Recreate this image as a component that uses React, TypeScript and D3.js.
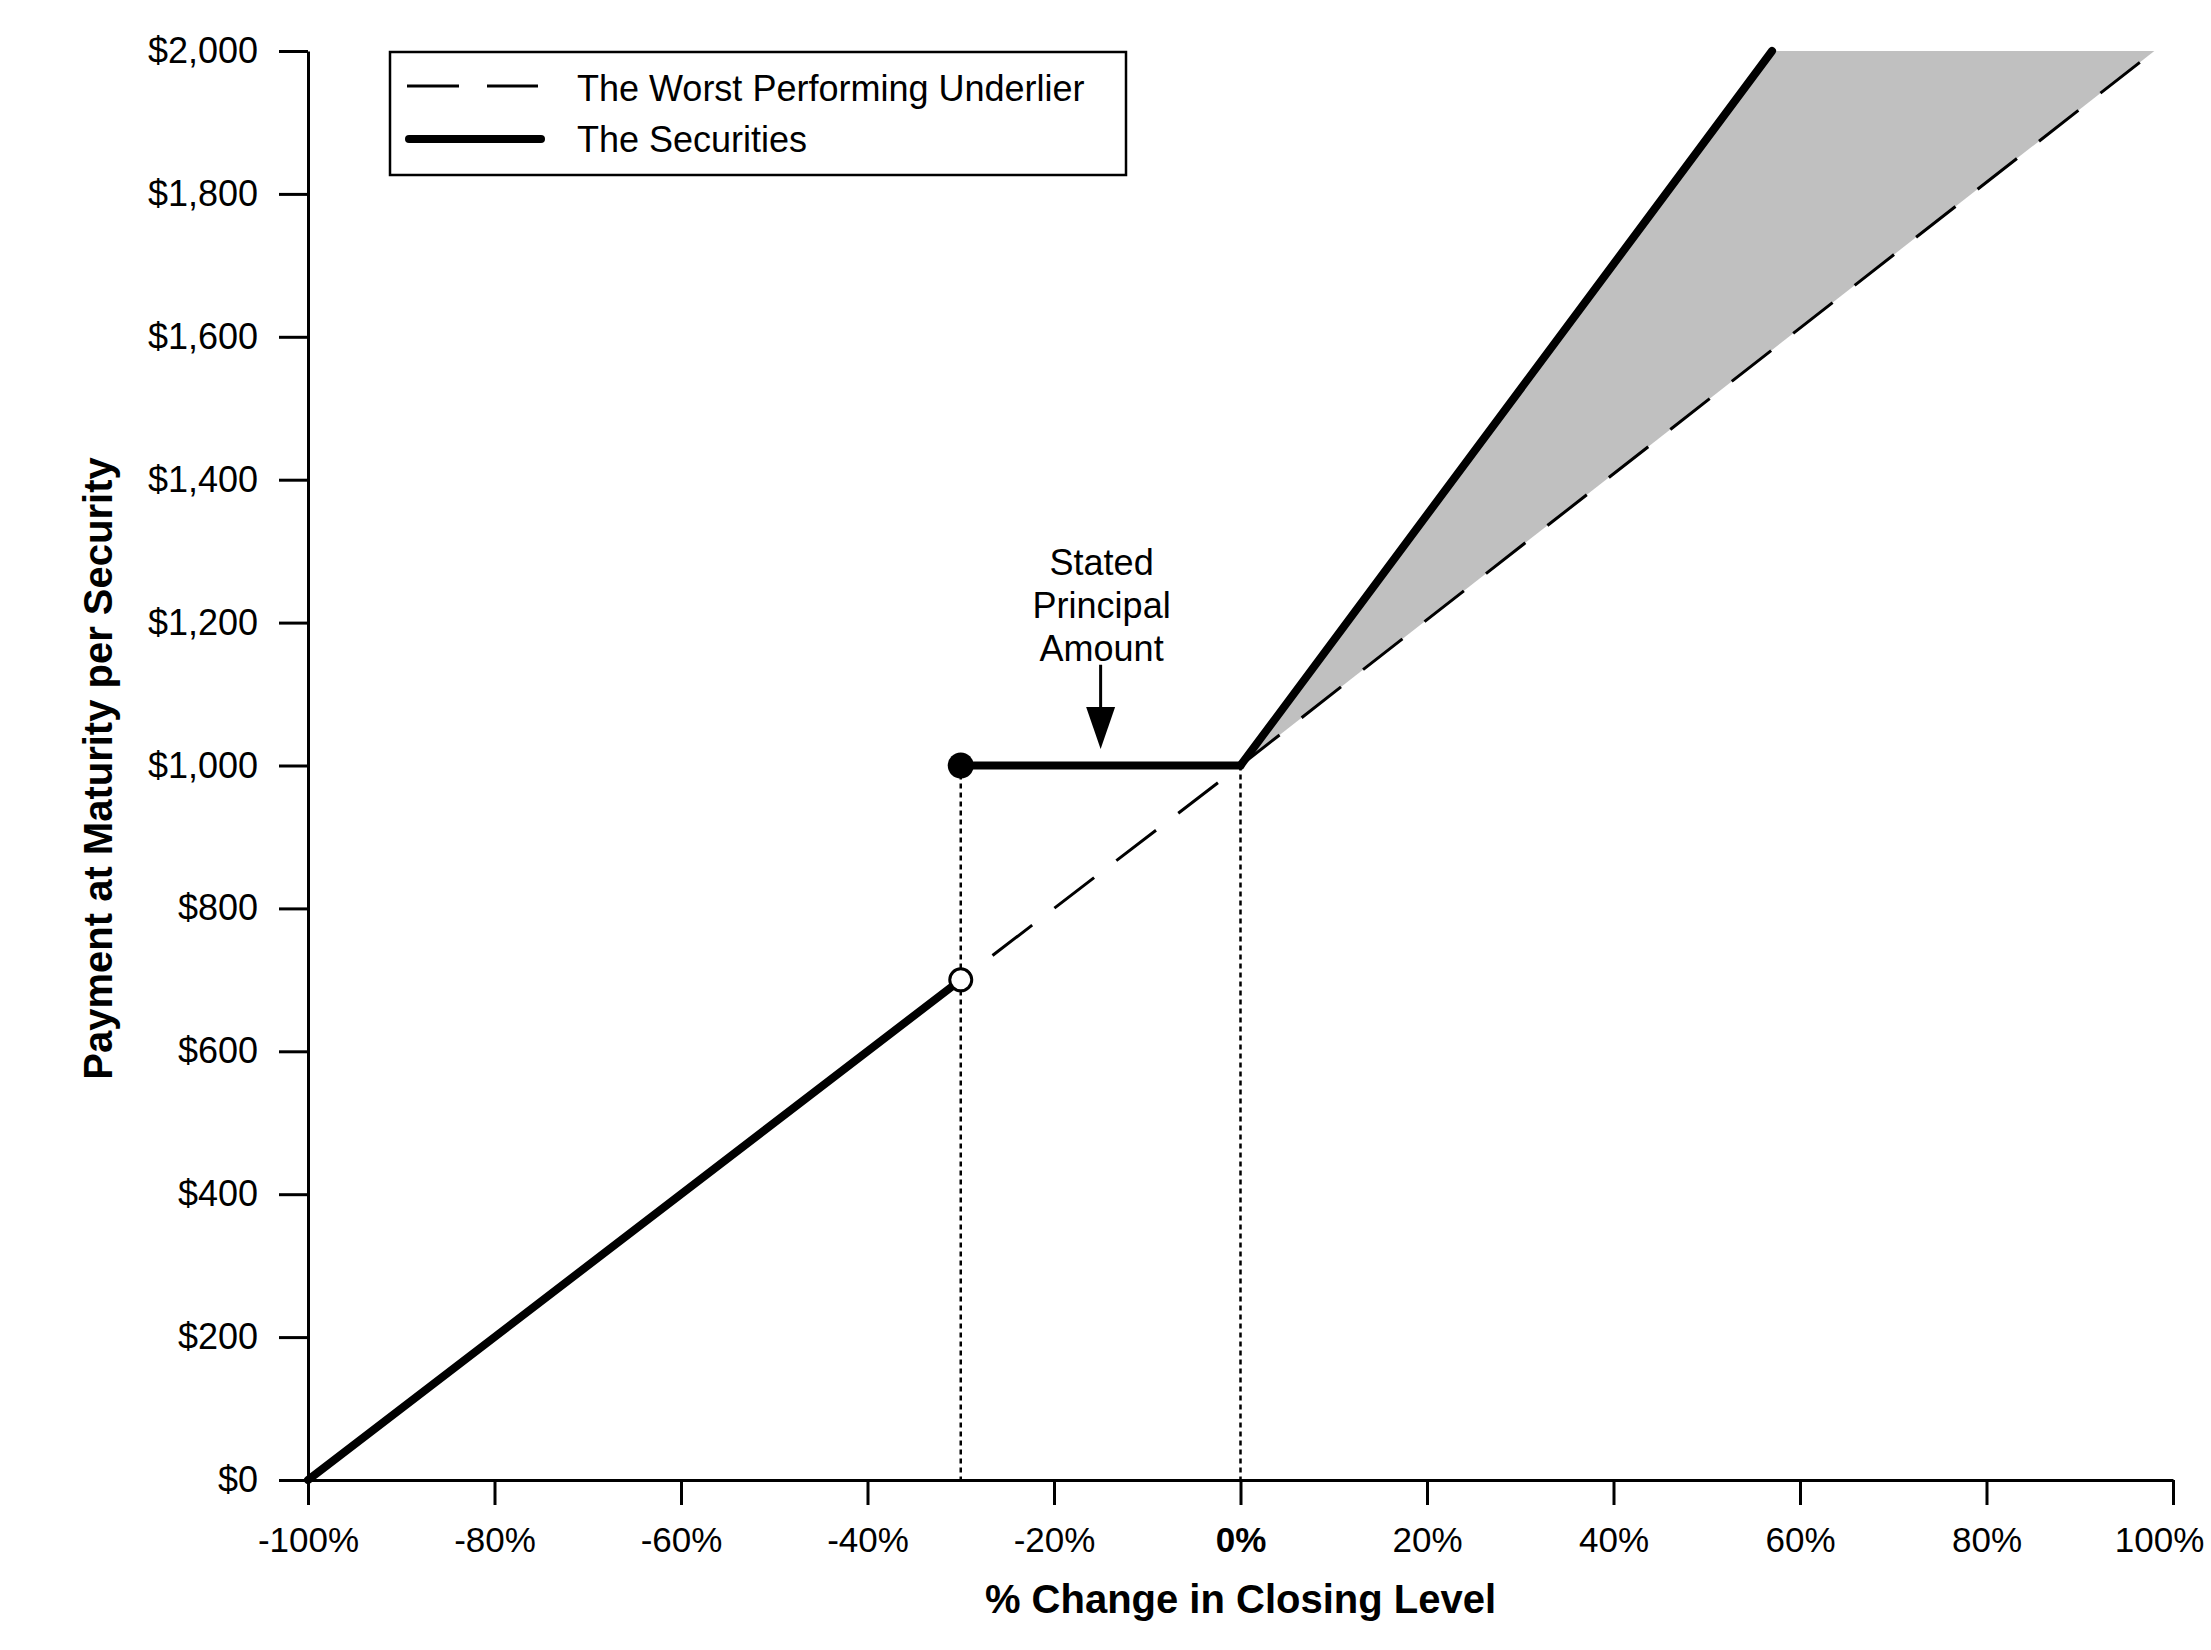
import { useEffect, useRef } from 'react';
import * as d3 from 'd3';

type Pt = [number, number];

// values
const xTicks = [-100, -80, -60, -40, -20, 0, 20, 40, 60, 80, 100];
const yTicks = [0, 200, 400, 600, 800, 1000, 1200, 1400, 1600, 1800, 2000];

const underlier: Pt[] = [[-30, 700], [0, 1000], [98, 2000]];
const securitiesLow: Pt[] = [[-100, 0], [-30, 700]];
const securitiesFlat: Pt[] = [[-30, 1000], [0, 1000]];
const securitiesUp: Pt[] = [[0, 1000], [57, 2000]];
const shaded: Pt[] = [[0, 1000], [57, 2000], [98, 2000]];
const dottedAt = [-30, 0];
const openDot: Pt = [-30, 700];
const filledDot: Pt = [-30, 1000];

const legendLabels = ['The Worst Performing Underlier', 'The Securities'];
const noteLines = ['Stated', 'Principal', 'Amount'];
const noteArrow = { x: -15, from: 1141, to: 1023 };

const FONT = '"Liberation Sans", Arial, sans-serif';

export default function App() {
  const svgRef = useRef<SVGSVGElement | null>(null);

  useEffect(() => {
    const svg = svgRef.current;
    if (!svg) return;

    const width = 2211;
    const height = 1650;

    const x = d3.scaleLinear().domain([-100, 100]).range([308, 2173]);
    const y = d3.scaleLinear().domain([0, 2000]).range([1480, 51]);

    const line = d3
      .line<Pt>()
      .x((d) => x(d[0]))
      .y((d) => y(d[1]));

    const root = d3.select(svg);
    root.attr('viewBox', `0 0 ${width} ${height}`);
    root.selectAll('*').remove();

    root.append('rect').attr('width', width).attr('height', height).attr('fill', '#fff');

    // grey band between the two upside lines
    root
      .append('path')
      .attr('fill', '#c0c0c0')
      .attr('d', d3.line<Pt>().x((d) => x(d[0])).y((d) => y(d[1])).curve(d3.curveLinearClosed)(shaded) as string);

    // dotted guides
    root
      .selectAll('line.guide')
      .data(dottedAt)
      .join('line')
      .attr('class', 'guide')
      .attr('x1', (d) => x(d))
      .attr('x2', (d) => x(d))
      .attr('y1', y(1000))
      .attr('y2', y(0))
      .attr('stroke', '#000')
      .attr('stroke-width', 2.5)
      .attr('stroke-dasharray', '5,4');

    root
      .append('path')
      .datum(underlier)
      .attr('fill', 'none')
      .attr('stroke', '#000')
      .attr('stroke-width', 3)
      .attr('stroke-dasharray', '50,28')
      .attr('stroke-dashoffset', -40)
      .attr('d', line as any);

    [securitiesLow, securitiesFlat, securitiesUp].forEach((seg) => {
      root
        .append('path')
        .datum(seg)
        .attr('fill', 'none')
        .attr('stroke', '#000')
        .attr('stroke-width', 8)
        .attr('stroke-linecap', 'round')
        .attr('stroke-linejoin', 'round')
        .attr('d', line as any);
    });

    root
      .append('circle')
      .attr('cx', x(filledDot[0]))
      .attr('cy', y(filledDot[1]))
      .attr('r', 13)
      .attr('fill', '#000');

    root
      .append('circle')
      .attr('cx', x(openDot[0]))
      .attr('cy', y(openDot[1]))
      .attr('r', 11)
      .attr('fill', '#fff')
      .attr('stroke', '#000')
      .attr('stroke-width', 3);

    // axes
    root
      .append('g')
      .attr('transform', `translate(0,${y(0)})`)
      .call(
        d3
          .axisBottom(x)
          .tickValues(xTicks)
          .tickSize(25)
          .tickSizeOuter(0)
          .tickPadding(22)
          .tickFormat((d) => `${d}%`)
      )
      .call((g) => g.selectAll('path,line').attr('stroke', '#000').attr('stroke-width', 3))
      .call((g) =>
        g
          .selectAll<SVGTextElement, number>('text')
          .attr('fill', '#000')
          .attr('font-family', FONT)
          .attr('font-size', 35)
          .attr('font-weight', (d) => (d === 0 ? 'bold' : 'normal'))
          .attr('dx', (d) => (d === 100 ? -14 : 0))
      );

    root
      .append('g')
      .attr('transform', `translate(${x(-100)},0)`)
      .call(
        d3
          .axisLeft(y)
          .tickValues(yTicks)
          .tickSize(29)
          .tickSizeOuter(0)
          .tickPadding(21)
          .tickFormat((d) => d3.format('$,')(d as number))
      )
      .call((g) => g.selectAll('path,line').attr('stroke', '#000').attr('stroke-width', 3))
      .call((g) =>
        g
          .selectAll('text')
          .attr('fill', '#000')
          .attr('font-family', FONT)
          .attr('font-size', 36)
      );

    root
      .append('text')
      .attr('x', (x(-100) + x(100)) / 2)
      .attr('y', 1613)
      .attr('text-anchor', 'middle')
      .attr('font-family', FONT)
      .attr('font-size', 40)
      .attr('font-weight', 'bold')
      .text('% Change in Closing Level');

    root
      .append('text')
      .attr('transform', `translate(112,${(y(0) + y(2000)) / 2 + 3}) rotate(-90)`)
      .attr('text-anchor', 'middle')
      .attr('font-family', FONT)
      .attr('font-size', 40)
      .attr('font-weight', 'bold')
      .text('Payment at Maturity per Security');

    // annotation
    const ax = x(noteArrow.x);
    root
      .append('line')
      .attr('x1', ax)
      .attr('x2', ax)
      .attr('y1', y(noteArrow.from))
      .attr('y2', y(noteArrow.to) - 40)
      .attr('stroke', '#000')
      .attr('stroke-width', 3);
    root
      .append('path')
      .attr(
        'd',
        `M${ax - 14.5},${y(noteArrow.to) - 42} L${ax + 14.5},${y(noteArrow.to) - 42} L${ax},${y(noteArrow.to)} Z`
      )
      .attr('fill', '#000');
    root
      .append('g')
      .selectAll('text')
      .data(noteLines)
      .join('text')
      .attr('x', ax + 1)
      .attr('y', (_, i) => y(noteArrow.from) - 4 - (noteLines.length - 1 - i) * 43)
      .attr('text-anchor', 'middle')
      .attr('font-family', FONT)
      .attr('font-size', 36)
      .text((d) => d);

    // legend
    const lg = root.append('g').attr('transform', 'translate(390,52)');
    lg.append('rect')
      .attr('width', 736)
      .attr('height', 123)
      .attr('fill', '#fff')
      .attr('stroke', '#000')
      .attr('stroke-width', 2.5);
    lg.append('line')
      .attr('x1', 17)
      .attr('x2', 148)
      .attr('y1', 34)
      .attr('y2', 34)
      .attr('stroke', '#000')
      .attr('stroke-width', 3)
      .attr('stroke-dasharray', '52,28');
    lg.append('line')
      .attr('x1', 19)
      .attr('x2', 151)
      .attr('y1', 87)
      .attr('y2', 87)
      .attr('stroke', '#000')
      .attr('stroke-width', 8)
      .attr('stroke-linecap', 'round');
    lg.selectAll('text.item')
      .data(legendLabels)
      .join('text')
      .attr('class', 'item')
      .attr('x', 187)
      .attr('y', (_, i) => 36 + i * 51)
      .attr('dy', '0.36em')
      .attr('font-family', FONT)
      .attr('font-size', 36)
      .text((d) => d);
  }, []);

  return (
    <svg
      ref={svgRef}
      width={2211}
      height={1650}
      style={{ position: 'absolute', left: 0, top: 0, display: 'block' }}
    />
  );
}
